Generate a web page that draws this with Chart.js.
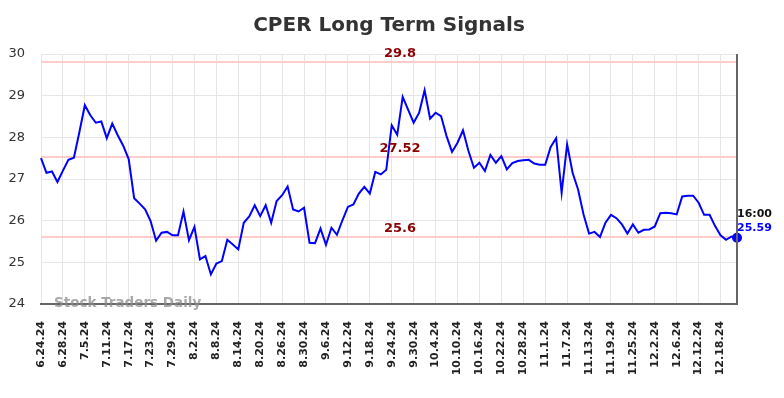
<!DOCTYPE html>
<html>
<head>
<meta charset="utf-8">
<script src="https://cdn.jsdelivr.net/npm/chart.js@4.4.0/dist/chart.umd.min.js"></script>
<style>
    html, body { margin: 0; padding: 0; background: #fff; }
</style>
</head>
<body>
<canvas id="signalsChart" width="784" height="398"></canvas>
<script>
// trading days, grouped by month (2024)
const tradingDays = [
    [6, [24, 25, 26, 27, 28]],
    [7, [1, 2, 3, 5, 8, 9, 10, 11, 12, 15, 16, 17, 18, 19, 22, 23, 24, 25, 26, 29, 30, 31]],
    [8, [1, 2, 5, 6, 7, 8, 9, 12, 13, 14, 15, 16, 19, 20, 21, 22, 23, 26, 27, 28, 29, 30]],
    [9, [3, 4, 5, 6, 9, 10, 11, 12, 13, 16, 17, 18, 19, 20, 23, 24, 25, 26, 27, 30]],
    [10, [1, 2, 3, 4, 7, 8, 9, 10, 11, 14, 15, 16, 17, 18, 21, 22, 23, 24, 25, 28, 29, 30, 31]],
    [11, [1, 4, 5, 6, 7, 8, 11, 12, 13, 14, 15, 18, 19, 20, 21, 22, 25, 26, 27, 29]],
    [12, [2, 3, 4, 5, 6, 9, 10, 11, 12, 13, 16, 17, 18, 19, 20, 23]]
];

const prices = [
    27.50, 27.15, 27.18, 26.93, 27.20, 27.46, 27.51, 28.12, 28.77, 28.53,
    28.35, 28.38, 27.98, 28.33, 28.05, 27.80, 27.48, 26.54, 26.41, 26.27,
    25.99, 25.52, 25.71, 25.73, 25.65, 25.65, 26.22, 25.53, 25.85, 25.07,
    25.15, 24.71, 24.97, 25.03, 25.54, 25.43, 25.31, 25.95, 26.10, 26.37,
    26.11, 26.37, 25.95, 26.47, 26.61, 26.82, 26.27, 26.22, 26.31, 25.47,
    25.46, 25.81, 25.42, 25.83, 25.66, 26.01, 26.33, 26.39, 26.65, 26.81,
    26.65, 27.17, 27.11, 27.22, 28.29, 28.06, 28.97, 28.66, 28.35, 28.59,
    29.13, 28.45, 28.59, 28.51, 28.03, 27.65, 27.87, 28.17, 27.67, 27.27,
    27.39, 27.19, 27.58, 27.39, 27.55, 27.23, 27.38, 27.43, 27.45, 27.46,
    27.37, 27.34, 27.34, 27.77, 27.98, 26.67, 27.83, 27.15, 26.75, 26.15,
    25.69, 25.73, 25.61, 25.95, 26.14, 26.06, 25.91, 25.69, 25.91, 25.71,
    25.78, 25.79, 25.86, 26.18, 26.19, 26.18, 26.15, 26.58, 26.60, 26.60,
    26.43, 26.14, 26.14, 25.87, 25.65, 25.54, 25.62, 25.59
];

const signalLevels = [29.8, 27.52, 25.6];
const signalLabels = ['29.8', '27.52', '25.6'];
const yTicks = [24, 25, 26, 27, 28, 29, 30];
const lastTime = '16:00';
const lastLabel = '25.59';

const labels = [];
tradingDays.forEach(([m, days]) => days.forEach(d => labels.push(m + '.' + d + '.24')));

const lastIndex = prices.length - 1;

Chart.defaults.font.family = '"DejaVu Sans", sans-serif';

const overlayPlugin = {
    id: 'overlay',
    beforeDatasetsDraw(chart) {
        const { ctx, chartArea: a, scales: { y } } = chart;
        ctx.save();
        ctx.strokeStyle = '#ffcccc';
        ctx.lineWidth = 2;
        signalLevels.forEach(v => {
            const py = Math.round(y.getPixelForValue(v));
            ctx.beginPath();
            ctx.moveTo(a.left, py);
            ctx.lineTo(a.right, py);
            ctx.stroke();
        });
        ctx.restore();
    },
    afterDraw(chart) {
        const { ctx, chartArea: a, scales: { y } } = chart;
        ctx.save();

        // title
        ctx.fillStyle = '#333';
        ctx.font = 'bold 20px "DejaVu Sans"';
        ctx.textAlign = 'center';
        ctx.textBaseline = 'middle';
        ctx.fillText('CPER Long Term Signals', (a.left + a.right) / 2, 26);

        // signal labels
        ctx.fillStyle = '#8b0000';
        ctx.font = 'bold 13px "DejaVu Sans"';
        signalLevels.forEach((v, i) => {
            ctx.fillText(signalLabels[i], 400, y.getPixelForValue(v) - 9);
        });

        // right border
        ctx.strokeStyle = '#666';
        ctx.lineWidth = 2;
        ctx.beginPath();
        ctx.moveTo(a.right, a.top);
        ctx.lineTo(a.right, a.bottom);
        ctx.stroke();

        // watermark
        ctx.fillStyle = 'rgba(140, 140, 140, 0.75)';
        ctx.font = 'bold 13.5px "DejaVu Sans"';
        ctx.textAlign = 'left';
        ctx.fillText('Stock Traders Daily', 54, a.bottom - 1);

        // last value
        const py = y.getPixelForValue(prices[lastIndex]);
        ctx.font = 'bold 11px "DejaVu Sans"';
        ctx.fillStyle = '#111';
        ctx.fillText(lastTime, a.right, py - 24);
        ctx.fillStyle = '#0000ff';
        ctx.fillText(lastLabel, a.right, py - 10);
        ctx.restore();
    }
};

new Chart(document.getElementById('signalsChart'), {
    type: 'line',
    data: {
        labels: labels,
        datasets: [{
            data: prices,
            borderColor: '#0000ff',
            backgroundColor: '#0000ff',
            borderWidth: 2,
            tension: 0,
            clip: false,
            pointRadius: ctx => ctx.dataIndex === lastIndex ? 4 : 0,
            pointHoverRadius: 0
        }]
    },
    options: {
        responsive: false,
        animation: false,
        layout: { padding: { top: 54, right: 47, left: 0, bottom: 0 } },
        plugins: {
            legend: { display: false },
            tooltip: { enabled: false },
            title: { display: false }
        },
        scales: {
            x: {
                afterFit(scale) { scale.height = 94; },
                grid: { color: '#e6e6e6', drawTicks: false },
                border: { color: '#666', width: 2 },
                ticks: {
                    autoSkip: false,
                    maxRotation: 90,
                    minRotation: 90,
                    padding: 17,
                    color: '#222',
                    font: { size: 11, weight: 'bold' },
                    callback: function(value, index) {
                        return index % 4 === 0 ? this.getLabelForValue(value) : null;
                    }
                }
            },
            y: {
                min: yTicks[0],
                max: yTicks[yTicks.length - 1],
                afterFit(scale) { scale.width = 41; },
                afterBuildTicks(scale) { scale.ticks = yTicks.map(v => ({ value: v })); },
                grid: { color: '#e6e6e6', drawTicks: false },
                border: { display: false },
                ticks: {
                    padding: 16,
                    color: '#333',
                    font: { size: 13 }
                }
            }
        }
    },
    plugins: [overlayPlugin]
});
</script>
</body>
</html>
